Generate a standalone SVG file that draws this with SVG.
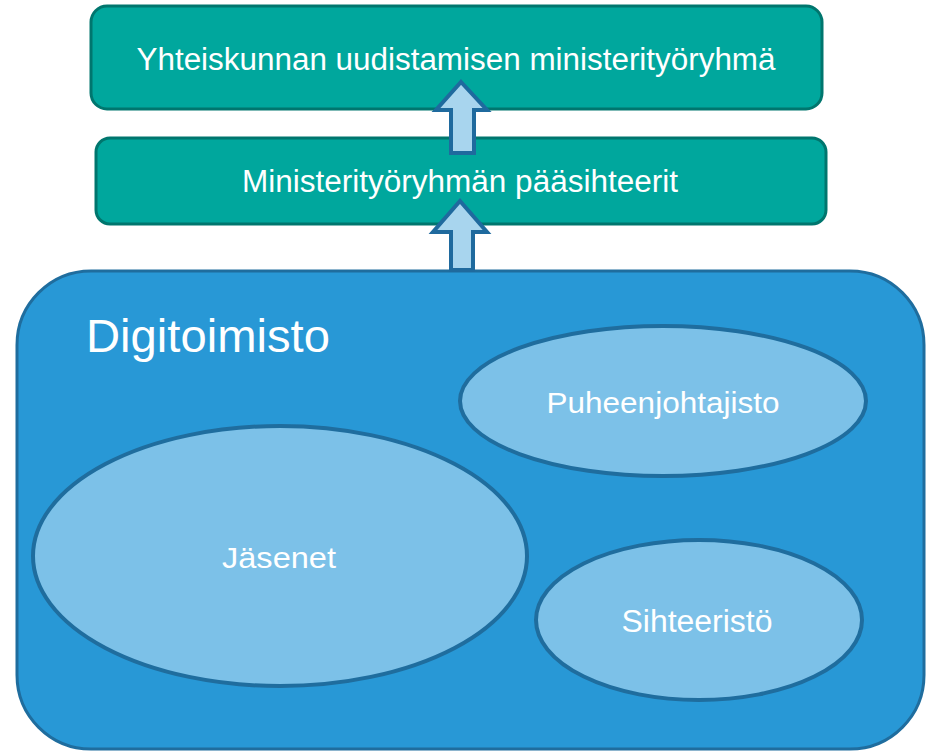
<svg xmlns="http://www.w3.org/2000/svg" width="932" height="752" viewBox="0 0 932 752">
<style>
.box{fill:#00A79D;stroke:#00766E;stroke-width:3}
.outer{fill:#2898D6;stroke:#1F6D9E;stroke-width:3}
.ell{fill:#7CC1E8;stroke:#1F6D9E;stroke-width:4}
.arr{fill:#A8D5EE;stroke:#1F6A9E;stroke-width:4;stroke-linejoin:miter}
text{font-family:"Liberation Sans",Arial,sans-serif;fill:#FFFFFF;text-anchor:middle}
</style>
<rect width="932" height="752" fill="#FFFFFF"/>
<g id="ministerityoryhma">
<rect class="box" x="91" y="6" width="731" height="103" rx="16"/>
<text x="456" y="70" font-size="31" textLength="639" lengthAdjust="spacingAndGlyphs">Yhteiskunnan uudistamisen ministerityöryhmä</text>
</g>
<g id="paasihteerit">
<rect class="box" x="96" y="138" width="730" height="86" rx="14"/>
<text x="460" y="192" font-size="31" textLength="436" lengthAdjust="spacingAndGlyphs">Ministerityöryhmän pääsihteerit</text>
</g>
<g id="digitoimisto">
<rect class="outer" x="17" y="271" width="907" height="478" rx="74"/>
<text x="86" y="352" font-size="46" style="text-anchor:start" textLength="244" lengthAdjust="spacingAndGlyphs">Digitoimisto</text>
</g>
<g id="puheenjohtajisto">
<ellipse class="ell" cx="663" cy="401" rx="203" ry="75"/>
<text x="663" y="413" font-size="30" textLength="233" lengthAdjust="spacingAndGlyphs">Puheenjohtajisto</text>
</g>
<g id="jasenet">
<ellipse class="ell" cx="280" cy="556" rx="247" ry="130"/>
<text x="279" y="568" font-size="30" textLength="114" lengthAdjust="spacingAndGlyphs">Jäsenet</text>
</g>
<g id="sihteeristo">
<ellipse class="ell" cx="699" cy="620" rx="163" ry="80"/>
<text x="697" y="632" font-size="31" textLength="151" lengthAdjust="spacingAndGlyphs">Sihteeristö</text>
</g>
<g id="connectors">
<path class="arr" d="M461,82 L487,110 L474,110 L474,153 L451,153 L451,110 L436,110 Z"/>
<path class="arr" d="M460,201 L487,232 L473,232 L473,270 L451,270 L451,232 L433,232 Z"/>
</g>
</svg>
